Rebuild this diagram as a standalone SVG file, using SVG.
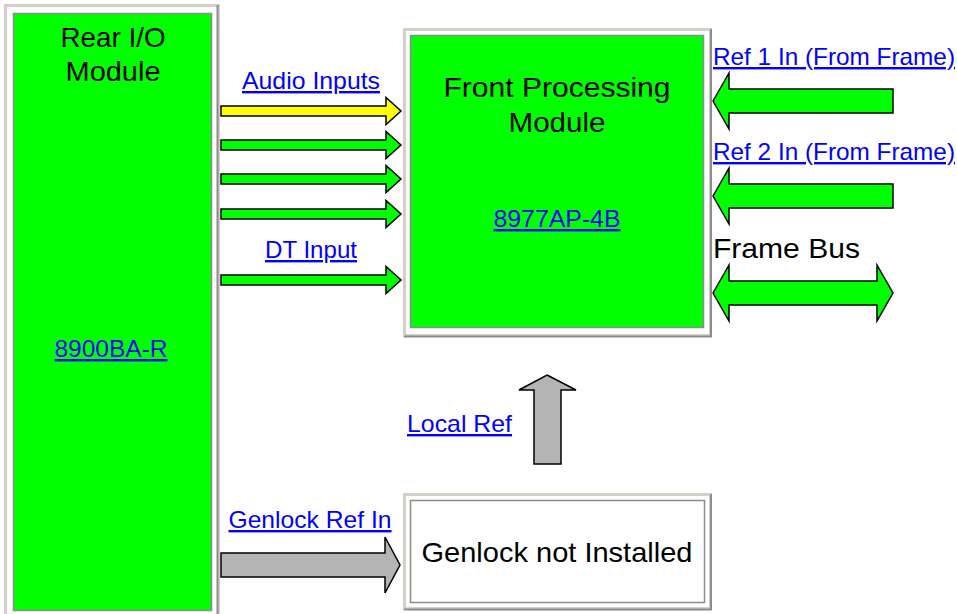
<svg xmlns="http://www.w3.org/2000/svg" width="957" height="614" viewBox="0 0 957 614">
<style>
  text { font-family: "Liberation Sans", Arial, sans-serif; }
  .lbl { font-size: 28px; fill: #000; }
  .lnk { font-size: 24px; fill: #0000ff; text-decoration: underline; }
  .frame { fill: #fff; stroke: #d4d0c8; stroke-width: 3; }
  .shade { fill: none; stroke: #8c8c8c; stroke-width: 2; }
  .green { fill: #00ff00; stroke: #8c8c8c; stroke-width: 1.5; }
  .white { fill: #fff; stroke: #8c8c8c; stroke-width: 1.5; }
  .ag { fill: #00ff00; stroke: #000; stroke-width: 1.5; stroke-linejoin: miter; }
  .ay { fill: #ffff00; stroke: #000; stroke-width: 1.5; }
  .agr { fill: #b4b4b4; stroke: #000; stroke-width: 1.5; }
</style>
<rect width="957" height="614" fill="#fff"/>

<g id="rear-io">
  <rect class="frame" x="5.5" y="5.5" width="213" height="612"/>
  <path class="shade" d="M217.5 5 V614"/>
  <rect class="green" x="13.5" y="13.5" width="198" height="597"/>
  <text class="lbl" x="113" y="47" text-anchor="middle" textLength="105" lengthAdjust="spacingAndGlyphs">Rear I/O</text>
  <text class="lbl" x="113" y="81" text-anchor="middle" textLength="95" lengthAdjust="spacingAndGlyphs">Module</text>
  <text class="lnk" x="111" y="357" text-anchor="middle" textLength="113" lengthAdjust="spacingAndGlyphs">8900BA-R</text>
</g>

<g id="front-processing">
  <rect class="frame" x="404.5" y="29.5" width="306" height="306"/>
  <path class="shade" d="M711 29 V336.5 H404"/>
  <rect class="green" x="410.5" y="35.5" width="293" height="292"/>
  <text class="lbl" x="557" y="97" text-anchor="middle" textLength="227" lengthAdjust="spacingAndGlyphs">Front Processing</text>
  <text class="lbl" x="557" y="132" text-anchor="middle" textLength="97" lengthAdjust="spacingAndGlyphs">Module</text>
  <text class="lnk" x="557" y="227" text-anchor="middle" textLength="127" lengthAdjust="spacingAndGlyphs">8977AP-4B</text>
</g>

<g id="genlock">
  <rect class="frame" x="404.5" y="494.5" width="306" height="114"/>
  <path class="shade" d="M711 494 V609.5 H404"/>
  <rect class="white" x="410.5" y="500.5" width="294" height="102"/>
  <text class="lbl" x="557" y="562" text-anchor="middle" textLength="271" lengthAdjust="spacingAndGlyphs">Genlock not Installed</text>
</g>

<g id="connectors">
  <polygon class="ay" points="221,106 386,106 386,97.5 401,111 386,124.5 386,116 221,116"/>
  <polygon class="ag" points="221,140 386,140 386,131.5 401,145 386,158.5 386,150 221,150"/>
  <polygon class="ag" points="221,174 386,174 386,165.5 401,179 386,192.5 386,184 221,184"/>
  <polygon class="ag" points="221,209 386,209 386,200.5 401,214 386,227.5 386,219 221,219"/>
  <polygon class="ag" points="221,275 386,275 386,266.5 401,280 386,293.5 386,285 221,285"/>

  <polygon class="ag" points="713,101 729,73 729,89 893,89 893,113 729,113 729,129"/>
  <polygon class="ag" points="713,196 729,168 729,184 893,184 893,208 729,208 729,224"/>
  <polygon class="ag" points="713,293 729,265 729,281 877,281 877,265 893,293 877,321 877,305 729,305 729,321"/>

  <polygon class="agr" points="547,375 576,390 561,390 561,464 534,464 534,390 519,390"/>
  <polygon class="agr" points="221,553 385,553 385,537 400,565 385,593 385,577 221,577"/>

  <text class="lnk" x="311" y="89" text-anchor="middle" textLength="138" lengthAdjust="spacingAndGlyphs">Audio Inputs</text>
  <text class="lnk" x="311" y="258" text-anchor="middle" textLength="92" lengthAdjust="spacingAndGlyphs">DT Input</text>
  <text class="lnk" x="310" y="528" text-anchor="middle" textLength="163" lengthAdjust="spacingAndGlyphs">Genlock Ref In</text>
  <text class="lnk" x="713" y="65" textLength="242" lengthAdjust="spacingAndGlyphs">Ref 1 In (From Frame)</text>
  <text class="lnk" x="713" y="160" textLength="242" lengthAdjust="spacingAndGlyphs">Ref 2 In (From Frame)</text>
  <text class="lbl" x="713" y="258" textLength="147" lengthAdjust="spacingAndGlyphs">Frame Bus</text>
  <text class="lnk" x="407" y="432" textLength="105" lengthAdjust="spacingAndGlyphs">Local Ref</text>
</g>
</svg>
